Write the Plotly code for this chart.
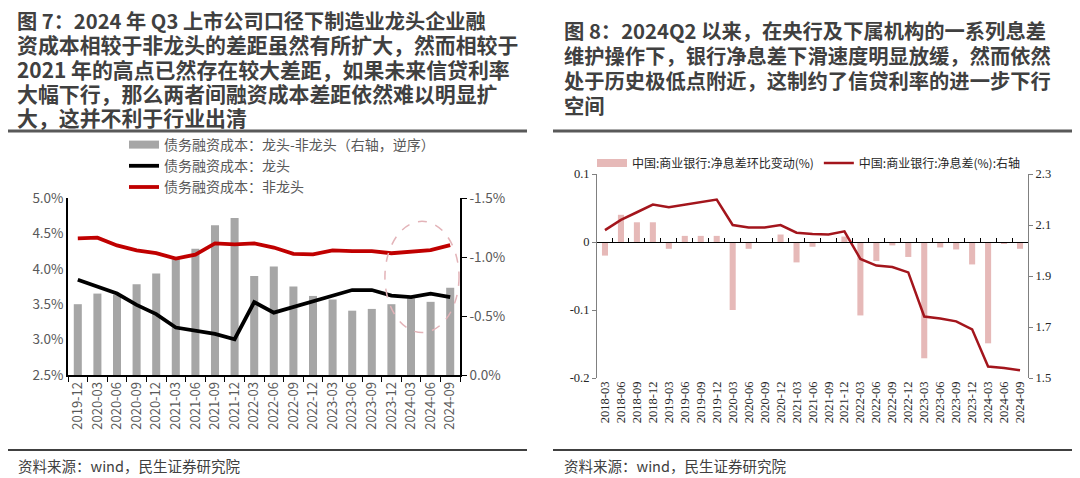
import plotly.graph_objects as go

W, H = 1080, 478

# ---------------- data: left chart (figure 7) ----------------
left_quarters = ["2019-12", "2020-03", "2020-06", "2020-09", "2020-12",
                 "2021-03", "2021-06", "2021-09", "2021-12",
                 "2022-03", "2022-06", "2022-09", "2022-12",
                 "2023-03", "2023-06", "2023-09", "2023-12",
                 "2024-03", "2024-06", "2024-09"]
leader_cost = [3.845, 3.75, 3.65, 3.49, 3.36, 3.17, 3.125, 3.08, 3.005,
               3.53, 3.38, 3.46, 3.54, 3.62, 3.70, 3.70, 3.62, 3.60, 3.65, 3.60]
non_leader_cost = [4.43, 4.44, 4.33, 4.26, 4.22, 4.145, 4.20, 4.36, 4.345,
                   4.36, 4.30, 4.21, 4.205, 4.26, 4.25, 4.25, 4.22, 4.24, 4.265, 4.335]
cost_gap = [-0.60, -0.69, -0.68, -0.77, -0.86, -0.98, -1.07, -1.27, -1.33,
            -0.84, -0.92, -0.75, -0.67, -0.64, -0.545, -0.56, -0.60, -0.65, -0.62, -0.74]
left_ticks = [2.5, 3.0, 3.5, 4.0, 4.5, 5.0]
gap_ticks = [0.0, -0.5, -1.0, -1.5]

# ---------------- data: right chart (figure 8) ----------------
nim_quarters = ["2018-03", "2018-06", "2018-09", "2018-12",
                "2019-03", "2019-06", "2019-09", "2019-12",
                "2020-03", "2020-06", "2020-09", "2020-12",
                "2021-03", "2021-06", "2021-09", "2021-12",
                "2022-03", "2022-06", "2022-09", "2022-12",
                "2023-03", "2023-06", "2023-09", "2023-12",
                "2024-03", "2024-06", "2024-09"]
nim_qoq_change = [-0.020, 0.040, 0.029, 0.029, -0.010, 0.009, 0.009, 0.009,
                  -0.100, -0.010, 0.0, 0.011, -0.030, -0.007, 0.0, 0.008,
                  -0.108, -0.028, -0.005, -0.022, -0.171, -0.008, -0.011, -0.033,
                  -0.149, -0.002, -0.010]
nim_level = [2.08, 2.12, 2.15, 2.18, 2.17, 2.18, 2.19, 2.20,
             2.10, 2.09, 2.09, 2.10, 2.07, 2.065, 2.063, 2.075,
             1.967, 1.941, 1.935, 1.914, 1.741, 1.733, 1.722, 1.691,
             1.545, 1.539, 1.530]
chg_ticks = [-0.2, -0.1, 0.0, 0.1]
nim_ticks = [1.5, 1.7, 1.9, 2.1, 2.3]

# ---------------- text ----------------
left_title_lines = [
    "图 7：2024 年 Q3 上市公司口径下制造业龙头企业融",
    "资成本相较于非龙头的差距虽然有所扩大，然而相较于",
    "2021 年的高点已然存在较大差距，如果未来信贷利率",
    "大幅下行，那么两者间融资成本差距依然难以明显扩",
    "大，这并不利于行业出清",
]
right_title_lines = [
    "图 8：2024Q2 以来，在央行及下属机构的一系列息差",
    "维护操作下，银行净息差下滑速度明显放缓，然而依然",
    "处于历史极低点附近，这制约了信贷利率的进一步下行",
    "空间",
]
source_text = "资料来源：wind，民生证券研究院"
left_names = ["债务融资成本：龙头-非龙头（右轴，逆序）", "债务融资成本：龙头", "债务融资成本：非龙头"]
right_names = ["中国:商业银行:净息差环比变动(%)", "中国:商业银行:净息差(%):右轴"]


def px_x(p):
    return p / W


def px_y(p):
    return 1 - p / H


CJK = "Noto Sans CJK SC"
SERIF = "Liberation Serif"
GRAY_TXT = "#595959"
DARK = "#404040"

# plot-area geometry (pixels)
L_X0, L_X1, L_Y0, L_Y1 = 68, 460, 198, 375
R_X0, R_X1, R_Y0, R_Y1 = 597, 1028, 174, 378

fig = go.Figure()

# ---- left chart traces ----
fig.add_trace(go.Bar(x=left_quarters, y=cost_gap, width=0.41, marker_color="#a6a6a6",
                     marker_line_width=0, xaxis="x", yaxis="y", showlegend=False,
                     name=left_names[0]))
fig.add_trace(go.Scatter(x=[None], y=[None], mode="lines", line=dict(color="#a6a6a6", width=8),
                         name=left_names[0], xaxis="x", yaxis="y", legend="legend"))
fig.add_trace(go.Scatter(x=left_quarters, y=leader_cost, mode="lines",
                         line=dict(color="#000000", width=3.8), name=left_names[1],
                         xaxis="x", yaxis="y2", legend="legend"))
fig.add_trace(go.Scatter(x=left_quarters, y=non_leader_cost, mode="lines",
                         line=dict(color="#c00000", width=3.8), name=left_names[2],
                         xaxis="x", yaxis="y2", legend="legend"))

# ---- right chart traces ----
fig.add_trace(go.Bar(x=nim_quarters, y=nim_qoq_change, width=0.38, marker_color="#e6b9b8",
                     marker_line_width=0, xaxis="x2", yaxis="y3", showlegend=False,
                     name=right_names[0]))
fig.add_trace(go.Scatter(x=[None], y=[None], mode="lines", line=dict(color="#e6b9b8", width=8),
                         name=right_names[0], xaxis="x2", yaxis="y3", legend="legend2"))
fig.add_trace(go.Scatter(x=nim_quarters, y=nim_level, mode="lines",
                         line=dict(color="#a3151c", width=2.5), name=right_names[1],
                         xaxis="x2", yaxis="y4", legend="legend2"))
# helper trace so that the zero-line axis exists
fig.add_trace(go.Scatter(x=nim_quarters, y=[None] * len(nim_quarters), mode="lines",
                         xaxis="x3", yaxis="y3", showlegend=False, hoverinfo="skip"))

chg_range = [-0.2, 0.1]
zero_frac = (0 - chg_range[0]) / (chg_range[1] - chg_range[0])
zero_py = R_Y1 - zero_frac * (R_Y1 - R_Y0)

fig.update_layout(
    width=W, height=H,
    margin=dict(l=0, r=0, t=0, b=0, pad=0, autoexpand=False),
    paper_bgcolor="white", plot_bgcolor="rgba(0,0,0,0)",
    font=dict(family=CJK, color=GRAY_TXT),
    xaxis=dict(domain=[px_x(L_X0), px_x(L_X1)], anchor="y", type="category",
               categoryorder="array", categoryarray=left_quarters,
               range=[-0.5, len(left_quarters) - 0.5],
               tickmode="array", tickvals=left_quarters, ticktext=left_quarters,
               showline=True, linecolor="#000000", linewidth=1.5,
               ticks="outside", tickson="boundaries", ticklen=5, tickcolor="#000000",
               tickangle=-90, tickfont=dict(family=CJK, size=13, color=GRAY_TXT),
               showgrid=False, zeroline=False, automargin=False),
    yaxis=dict(domain=[px_y(L_Y1), px_y(L_Y0)], anchor="x", side="right",
               range=[0, -1.5], tickvals=gap_ticks,
               ticktext=[f"{v:.1f}%" for v in gap_ticks],
               showline=True, linecolor="#000000", linewidth=1.5,
               ticks="outside", ticklen=5, tickcolor="#000000",
               tickfont=dict(family=CJK, size=13.5, color=GRAY_TXT),
               showgrid=False, zeroline=False, automargin=False),
    yaxis2=dict(overlaying="y", anchor="x", side="left", range=[2.5, 5.0],
                tickvals=left_ticks, ticktext=[f"{v:.1f}%" for v in left_ticks],
                showline=True, linecolor="#000000", linewidth=1.5, ticks="",
                tickfont=dict(family=CJK, size=13.5, color=GRAY_TXT),
                showgrid=False, zeroline=False, automargin=False),
    xaxis2=dict(domain=[px_x(R_X0), px_x(R_X1)], anchor="y3", type="category",
                categoryorder="array", categoryarray=nim_quarters,
                range=[-0.5, len(nim_quarters) - 0.5],
                tickmode="array", tickvals=nim_quarters, ticktext=nim_quarters,
                showline=False, ticks="", tickangle=-90,
                tickfont=dict(family=SERIF, size=12.5, color="#262626"),
                showgrid=False, zeroline=False, automargin=False),
    xaxis3=dict(overlaying="x2", anchor="free", position=px_y(zero_py), type="category",
                categoryorder="array", categoryarray=nim_quarters,
                range=[-0.5, len(nim_quarters) - 0.5],
                showline=True, linecolor="#000000", linewidth=1,
                ticks="inside", tickson="boundaries", ticklen=4, tickcolor="#000000",
                showticklabels=False, showgrid=False, zeroline=False, automargin=False),
    yaxis3=dict(domain=[px_y(R_Y1), px_y(R_Y0)], anchor="x2", side="left",
                range=chg_range, tickvals=chg_ticks,
                ticktext=["-0.2", "-0.1", "0", "0.1"],
                showline=True, linecolor="#808080", linewidth=1,
                ticks="outside", ticklen=4, tickcolor="#808080",
                tickfont=dict(family=SERIF, size=12.5, color="#262626"),
                showgrid=False, zeroline=False, automargin=False),
    yaxis4=dict(overlaying="y3", anchor="x2", side="right", range=[1.5, 2.3],
                tickvals=nim_ticks, ticktext=[f"{v:.1f}" for v in nim_ticks],
                showline=True, linecolor="#808080", linewidth=1,
                ticks="outside", ticklen=4, tickcolor="#808080",
                tickfont=dict(family=SERIF, size=12.5, color="#262626"),
                showgrid=False, zeroline=False, automargin=False),
    legend=dict(x=px_x(124), y=px_y(129), xanchor="left", yanchor="top",
                orientation="v", bgcolor="rgba(0,0,0,0)", borderwidth=0,
                font=dict(family=CJK, size=14, color=GRAY_TXT), traceorder="normal",
                itemclick=False),
    legend2=dict(x=px_x(592), y=px_y(163), xanchor="left", yanchor="middle",
                 orientation="h", bgcolor="rgba(0,0,0,0)", borderwidth=0,
                 font=dict(family=CJK, size=12, color="#262626"), traceorder="normal",
                 itemclick=False),
    barmode="overlay",
)

# titles (first line holds wider latin glyphs, so it is set a touch smaller)
left_title_sizes = [20.2, 20.9, 20.9, 20.9, 20.9]
annotations = []
for i, line in enumerate(left_title_lines):
    annotations.append(dict(text=line, x=px_x(16), y=px_y(20 + i * 24.3), xref="paper", yref="paper",
                            xanchor="left", yanchor="middle", showarrow=False, borderpad=0,
                            font=dict(family=CJK, size=left_title_sizes[i], color=DARK, weight="bold")))
for i, line in enumerate(right_title_lines):
    annotations.append(dict(text=line, x=px_x(563), y=px_y(30 + i * 25), xref="paper", yref="paper",
                            xanchor="left", yanchor="middle", showarrow=False, borderpad=0,
                            font=dict(family=CJK, size=20.3, color=DARK, weight="bold")))
for sx in (16, 562):
    annotations.append(dict(text=source_text, x=px_x(sx), y=px_y(465), xref="paper", yref="paper",
                            xanchor="left", yanchor="middle", showarrow=False,
                            font=dict(family=CJK, size=14.5, color=DARK)))
fig.update_layout(annotations=annotations)

shapes = []
for x0, x1 in ((8, 527), (553, 1072)):
    shapes.append(dict(type="line", xref="paper", yref="paper", x0=px_x(x0), x1=px_x(x1),
                       y0=px_y(131), y1=px_y(131), line=dict(color="#595959", width=3)))
    shapes.append(dict(type="line", xref="paper", yref="paper", x0=px_x(x0), x1=px_x(x1),
                       y0=px_y(450), y1=px_y(450), line=dict(color="#404040", width=2)))
# highlight ellipse around the latest quarters
shapes.append(dict(type="circle", xref="x", yref="y2", x0=15.67, x1=19.45, y0=3.10, y1=4.67,
                   line=dict(color="#e3b3b8", width=1.5, dash="dash"), layer="above"))
fig.update_layout(shapes=shapes)

fig.write_html("out.html", config={"displayModeBar": False},
               post_script="document.body.style.margin='0px';")
